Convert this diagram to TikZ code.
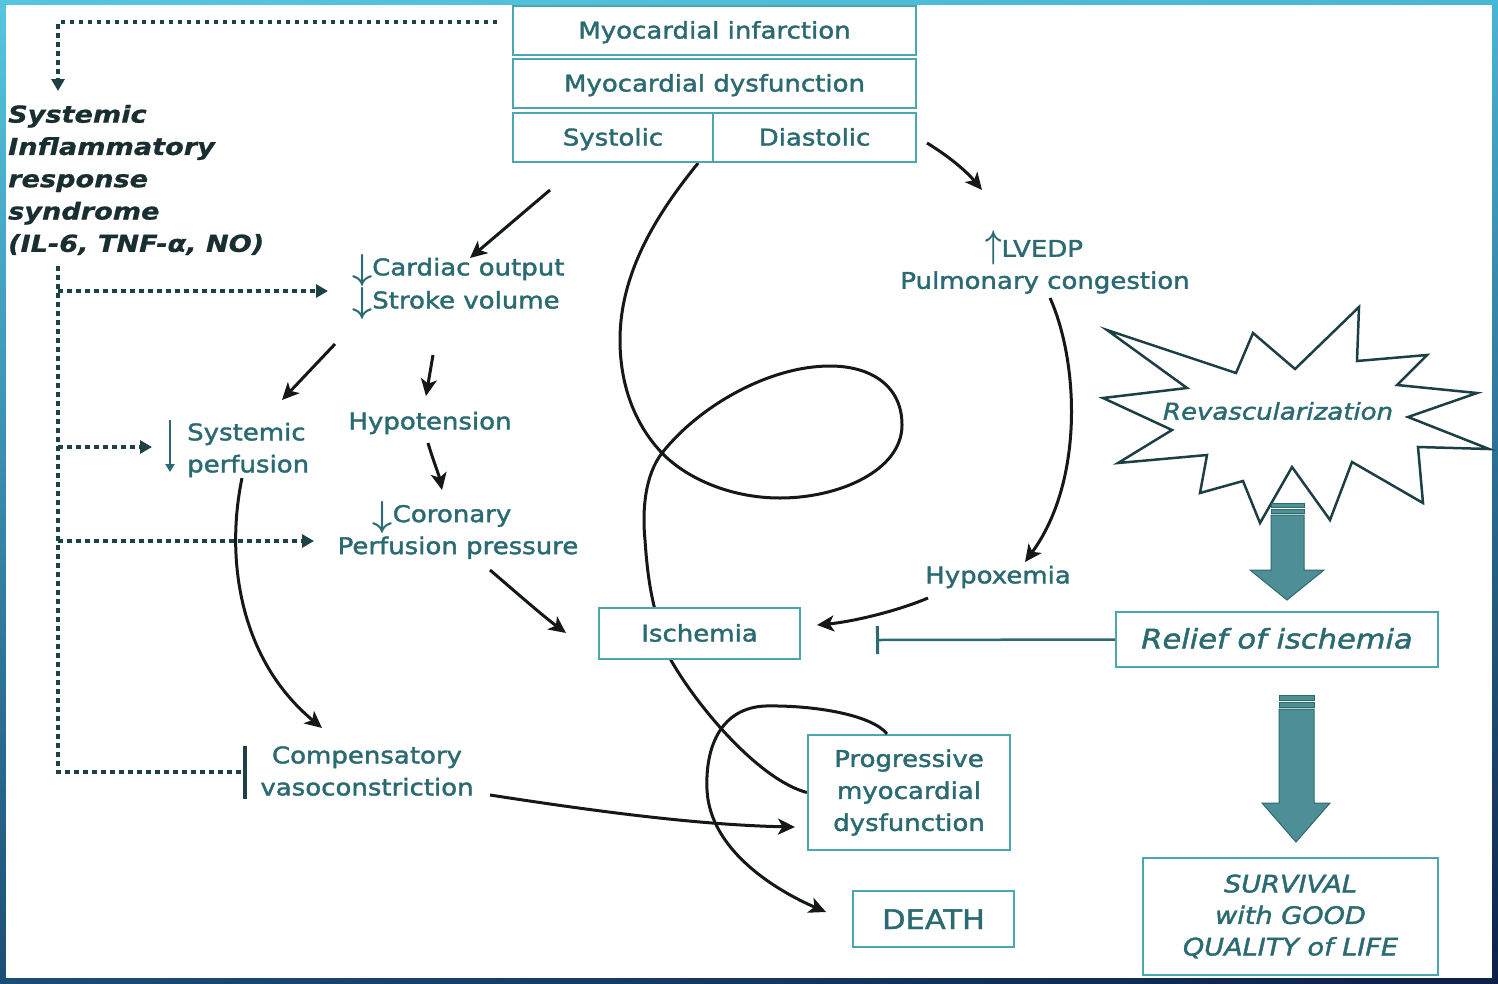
\documentclass[tikz,border=0pt]{standalone}
\usepackage{fontspec}
\setmainfont{DejaVu Sans}[FakeStretch=1.13,FakeBold=1.7]
\newfontfamily\sirsfont{DejaVu Sans}[FakeStretch=1.16,FakeBold=0.8]
\usetikzlibrary{arrows.meta,shadings}
\definecolor{tealtxt}{HTML}{2A6A70}
\definecolor{tealbox}{HTML}{4AA7B0}
\definecolor{sirsc}{HTML}{182E30}
\definecolor{arrc}{HTML}{141818}
\definecolor{dotc}{HTML}{1D4145}
\definecolor{bigfill}{HTML}{4E8F97}
\definecolor{bigline}{HTML}{2F6970}
\definecolor{starc}{HTML}{1C3F45}
\definecolor{fTL}{HTML}{55C6DF}
\definecolor{fTR}{HTML}{48B6D5}
\definecolor{fBL}{HTML}{1B4D77}
\definecolor{fBR}{HTML}{0D1F47}
\pgfdeclarelayer{framelayer}
\pgfdeclarelayer{curvelayer}
\pgfsetlayers{framelayer,curvelayer,main}
\newcommand{\dnarr}{\raisebox{-0.18em}{\scalebox{1.4}[1.45]{\boldmath$\downarrow$}}}
\newcommand{\uparr}{\raisebox{-0.02em}{\scalebox{1.15}[1.55]{\boldmath$\uparrow$}}}
\tikzset{
  txt/.style={text=tealtxt, inner sep=0pt, font=\fontsize{23}{32}\selectfont, align=center},
  bx/.style={draw=tealbox, line width=2.2pt, fill=white, text=tealtxt, inner sep=0pt,
     font=\fontsize{23}{32}\selectfont, align=center},
  one/.style={text height=22pt, text depth=6pt},
  arr/.style={draw=arrc, line width=3pt, -{Stealth[length=17pt,width=16pt,inset=4.5pt]}},
  curv/.style={draw=arrc, line width=3pt},
  dotl/.style={draw=dotc, line width=4pt, dash pattern=on 4.5pt off 4.5pt},
  dotarr/.style={dotl, -{Triangle[length=12pt,width=13pt]}},
  bigarr/.style={fill=bigfill, draw=bigline, line width=1pt},
}
\begin{document}
\begin{tikzpicture}[x=1pt,y=-1pt]
\path[use as bounding box] (0,0) rectangle (1498,983);
\begin{pgfonlayer}{framelayer}
\shade[upper left=fTL, upper right=fTR, lower left=fBL, lower right=fBR] (0,0) rectangle (1498,983);
\fill[white] (6,5) rectangle (1492,978);
\end{pgfonlayer}

% top boxes
\node[bx, one, minimum width=403pt, minimum height=49pt] (mi) at (714.5,30.5) {Myocardial infarction};
\node[bx, one, minimum width=403pt, minimum height=49pt] (md) at (714.5,83.5) {Myocardial dysfunction};
\node[bx, one, minimum width=200pt, minimum height=49pt] (sys) at (613,137.5) {Systolic};
\node[bx, one, minimum width=203pt, minimum height=49pt] (dia) at (814.5,137.5) {Diastolic};

% SIRS
\node[text=sirsc, inner sep=0pt, align=left, anchor=west,
  font=\sirsfont\fontsize{23.4}{32.3}\selectfont\bfseries\itshape] (sirs) at (8,180)
  {Systemic\\Inflammatory\\response\\syndrome\\(IL-6, TNF-α, NO)};

% middle texts
\node[txt, align=left, anchor=west] (co) at (352,287) {\dnarr Cardiac output\\\dnarr Stroke volume};
\node[txt, align=left, anchor=west] (sp) at (187,450) {Systemic\\perfusion};
\node[txt] (hyp) at (430,423) {Hypotension};
\node[txt] (cpp) at (458,530) {\dnarr Coronary\hspace*{32pt}\\Perfusion pressure};
\node[txt] (comp) at (367,771) {Compensatory\\vasoconstriction};
\node[txt] (lv) at (1045,262) {\uparr LVEDP\hspace*{22pt}\\Pulmonary congestion};
\node[txt] (hypox) at (998,577) {Hypoxemia};

\node[bx, one, minimum width=201pt, minimum height=51pt] (isch) at (699.5,633.5) {Ischemia};
\node[bx, minimum width=202pt, minimum height=115pt] (prog) at (909,792.5) {Progressive\\myocardial\\dysfunction};
\node[bx, minimum width=161pt, minimum height=56pt, font=\fontsize{27}{32}\selectfont, text height=20pt, text depth=0pt] (death) at (933.5,919) {DEATH};
\node[bx, minimum width=322pt, minimum height=55pt, font=\fontsize{27}{32}\selectfont\itshape, text height=25pt, text depth=7pt] (relief) at (1277,639.5) {Relief of ischemia};
\node[bx, minimum width=295pt, minimum height=117pt, font=\fontsize{24}{31.5}\selectfont\itshape] (surv) at (1290.5,916.5) {SURVIVAL\\with GOOD\\QUALITY of LIFE};

% starburst
\draw[draw=starc, line width=2.5pt, fill=white, line join=miter]
 (1107,330) -- (1236,373) -- (1253,333) -- (1295,369) -- (1359,307) -- (1357,361)
 -- (1427,355) -- (1397,385) -- (1477,393) -- (1408,417) -- (1489,449) -- (1418,447)
 -- (1423,503) -- (1352,462) -- (1330,520) -- (1292,467) -- (1260,523) -- (1243,481)
 -- (1200,493) -- (1207,455) -- (1118,463) -- (1172,430) -- (1103,398) -- (1187,388) -- cycle;
\node[txt, font=\fontsize{23}{32}\selectfont\itshape] (revasc) at (1278,411) {Revascularization};

% big arrows
\fill[bigarr] (1271,503) rectangle (1304,507);
\fill[bigarr] (1271,509) rectangle (1304,513);
\path[bigarr] (1271,515) -- (1304,515) -- (1304,570) -- (1324,570) -- (1287,600) -- (1250,570) -- (1271,570) -- cycle;
\fill[bigarr] (1279,695) rectangle (1314,700);
\fill[bigarr] (1279,702) rectangle (1314,707);
\path[bigarr] (1279,709) -- (1314,709) -- (1314,803) -- (1330,803) -- (1296,842) -- (1262,803) -- (1279,803) -- cycle;

% dotted lines
\coordinate (dTop) at (497,22);
\coordinate (dCorner) at (58,22);
\coordinate (dSirs) at (58,91);
\draw[dotarr] (dTop) -- (dCorner) -- (dSirs);
\coordinate (vTop) at (58,266);
\coordinate (vBot) at (58,772);
\coordinate (tee) at (245,772);
\draw[dotl] (vTop) -- (vBot) -- (tee);
\draw[draw=dotc, line width=3.5pt] ([yshift=26pt]tee) -- ([yshift=-27pt]tee);
\coordinate (b1) at (58,291); \coordinate (e1) at (328,291);
\coordinate (b2) at (58,447); \coordinate (e2) at (152,447);
\coordinate (b3) at (58,541); \coordinate (e3) at (314,541);
\draw[dotarr] (b1) -- (e1);
\draw[dotarr] (b2) -- (e2);
\draw[dotarr] (b3) -- (e3);

% systemic perfusion down arrow
\draw[draw=tealtxt, line width=2.2pt, -{Triangle[length=8pt,width=9pt]}] (170,420) -- (170,472);

% relief inhibition
\coordinate (inh) at (876,640);
\draw[draw=bigline, line width=2.5pt, -{Bar[width=28pt,line width=3pt]}] (relief.west) -- (inh);

% black arrows
\coordinate (a1s) at (550,190); \coordinate (a1e) at (470,258);
\draw[arr] (a1s) -- (a1e);
\coordinate (a2s) at (927,143); \coordinate (a2e) at (982,190);
\draw[arr] (a2s) .. controls (950,157) and (967,172) .. (a2e);
\coordinate (a3s) at (335,344); \coordinate (a3e) at (282,400);
\draw[arr] (a3s) -- (a3e);
\coordinate (a4s) at (433,355); \coordinate (a4e) at (426,396);
\draw[arr] (a4s) -- (a4e);
\coordinate (a5s) at (428,443); \coordinate (a5e) at (442,490);
\draw[arr] (a5s) .. controls (433,460) and (439,475) .. (a5e);
\coordinate (a6s) at (490,570); \coordinate (a6e) at (566,633);
\draw[arr] (a6s) .. controls (518,594) and (543,616) .. (a6e);
\coordinate (a7s) at (1050,298); \coordinate (a7e) at (1025,562);
\draw[arr] (a7s) .. controls (1078,360) and (1085,480) .. (a7e);
\coordinate (a8s) at (928,598); \coordinate (a8e) at (817,625);
\draw[arr] (a8s) .. controls (895,612) and (850,622) .. (a8e);
\coordinate (a9s) at (242,478); \coordinate (a9e) at (322,728);
\draw[arr] (a9s) .. controls (225,560) and (240,660) .. (a9e);
\coordinate (a10s) at (490,795); \coordinate (a10e) at (795,827);
\draw[arr] (a10s) .. controls (600,812) and (700,825) .. (a10e);

% death curve
\coordinate (dth) at (826,912);
\draw[arr] ([xshift=-22pt]prog.north) .. controls (872,715) and (815,705) .. (765,706)
  .. controls (722,708) and (705,745) .. (707,790)
  .. controls (710,850) and (775,890) .. (dth);

% spiral (behind boxes)
\begin{pgfonlayer}{curvelayer}
\draw[curv] ([xshift=-16pt]sys.south east) .. controls (660,210) and (620,270) .. (620,340)
  .. controls (620,390) and (638,428) .. (662,453)
  .. controls (686,478) and (730,498) .. (780,498)
  .. controls (840,498) and (902,470) .. (902,425)
  .. controls (902,385) and (870,366) .. (830,366)
  .. controls (770,366) and (700,405) .. (662,453)
  .. controls (645,475) and (642,510) .. (645,540)
  .. controls (647,570) and (650,590) .. (655,610)
  .. controls (660,630) and (665,650) .. (672,662)
  .. controls (700,710) and (760,780) .. (prog.west);
\end{pgfonlayer}
\end{tikzpicture}
\end{document}
